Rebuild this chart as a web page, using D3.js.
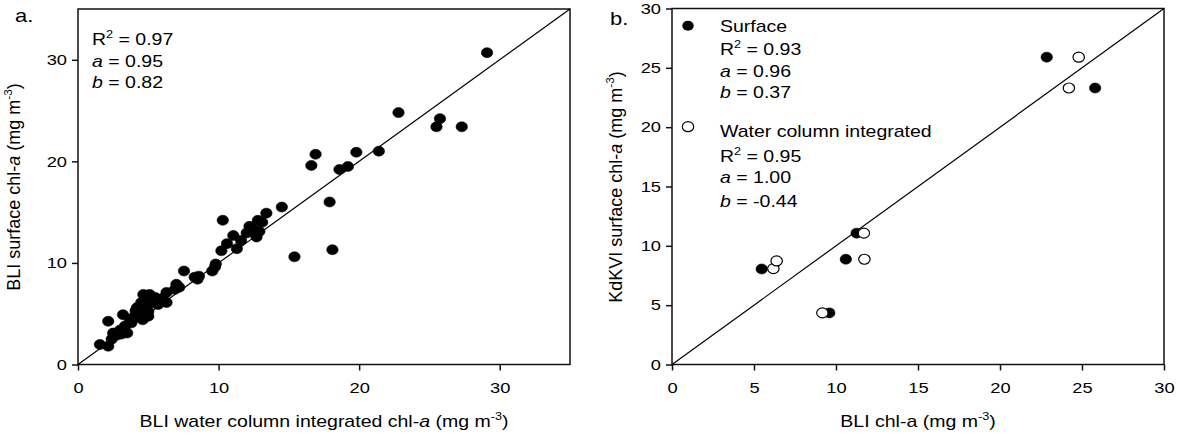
<!DOCTYPE html>
<html>
<head>
<meta charset="utf-8">
<script src="https://cdn.jsdelivr.net/npm/d3@7"></script>
<style>
  body { margin: 0; background: #fff; }
  svg { display: block; font-family: "Liberation Sans", Arial, sans-serif; }
</style>
</head>
<body>
<script>
'use strict';

// panel a: BLI water column integrated vs BLI surface chl-a
const aX = [29.1, 22.8, 25.75, 25.5, 27.3, 21.4, 19.8, 16.9, 16.6, 18.6, 19.2, 17.9, 18.1, 15.4,
  14.5, 13.4, 12.8, 10.3, 12.2, 12.9, 12.7, 12.0, 11.05, 10.6, 10.2, 11.3, 9.74, 9.55, 7.54,
  8.3, 8.6, 7.0, 6.9, 6.3, 6.3, 5.8, 5.1, 4.65, 5.5, 4.5, 4.2, 5.0, 4.4, 5.0, 3.2, 3.7, 3.35,
  3.5, 3.0, 2.5, 2.15, 2.4, 2.15, 1.56, 3.8, 4.3, 4.77, 5.36, 3.9, 4.1, 4.6, 3.1, 2.8, 5.7,
  6.0, 4.9, 7.2, 12.5, 11.6, 9.8, 8.5, 13.1];
const aY = [30.7, 24.8, 24.2, 23.4, 23.4, 21.0, 20.9, 20.7, 19.6, 19.2, 19.5, 16.0, 11.3, 10.6,
  15.5, 14.9, 14.2, 14.2, 13.6, 13.1, 12.55, 12.95, 12.7, 11.9, 11.2, 11.4, 9.6, 9.2, 9.2,
  8.6, 8.7, 7.9, 7.4, 7.1, 6.1, 6.4, 6.9, 6.9, 6.6, 6.1, 5.6, 5.2, 4.9, 4.75, 4.9, 4.4, 3.8,
  3.1, 3.4, 3.1, 4.26, 2.5, 1.8, 1.97, 4.1, 5.1, 5.7, 6.06, 4.6, 5.3, 4.4, 3.0, 2.9, 5.9,
  6.5, 6.3, 7.6, 13.3, 12.2, 9.9, 8.4, 14.0];

// panel b: BLI chl-a vs KdKVI surface chl-a
const surfX = [22.85, 25.8, 11.26, 10.6, 5.47, 9.59];
const surfY = [25.9, 23.3, 11.07, 8.87, 8.05, 4.35];
const wcX = [24.8, 24.2, 11.7, 11.73, 6.18, 6.38, 9.17];
const wcY = [25.9, 23.3, 11.07, 8.87, 8.08, 8.73, 4.35];

const aTicks = [0, 10, 20, 30];
const bTicks = [0, 5, 10, 15, 20, 25, 30];

const SX = 1.22; // source figure is stretched horizontally
const svg = d3.select('body').append('svg')
  .attr('width', 1182)
  .attr('height', 436);

// place a text element, stretched horizontally unless rotated
function place(sel, x, y, rot) {
  if (rot) {
    sel.attr('transform', 'translate(' + x + ',' + y + ') rotate(' + rot + ')');
  } else {
    sel.attr('transform', 'translate(' + x + ',' + y + ') scale(' + SX + ',1)');
  }
  return sel;
}

// parts: {t, i (italic), sup}
function rich(sel, parts, fs) {
  let up = false;
  parts.forEach(p => {
    const ts = sel.append('tspan').text(p.t);
    if (p.i) ts.style('font-style', 'italic');
    if (p.sup) {
      ts.attr('font-size', fs * 0.65).attr('dy', -fs * 0.42);
      up = true;
    } else if (up) {
      ts.attr('dy', fs * 0.42);
      up = false;
    }
  });
  return sel;
}

function label(x, y, parts, fs, opts) {
  opts = opts || {};
  const t = svg.append('text')
    .attr('font-size', fs)
    .attr('text-anchor', opts.anchor || 'start')
    .attr('fill', '#000');
  place(t, x, y, opts.rot);
  rich(t, parts, fs);
  return t;
}

function drawPanel(x, y, ticks) {
  const r = x.range(), d = y.range();
  const g = svg.append('g');

  g.append('rect')
    .attr('x', r[0]).attr('y', d[1])
    .attr('width', r[1] - r[0]).attr('height', d[0] - d[1])
    .attr('fill', 'none').attr('stroke', '#111').attr('stroke-width', 1.5);

  const yAxis = g.append('g')
    .attr('transform', 'translate(' + r[0] + ',0)')
    .call(d3.axisLeft(y).tickValues(ticks).tickSize(6).tickSizeOuter(0));
  const xAxis = g.append('g')
    .attr('transform', 'translate(0,' + d[0] + ')')
    .call(d3.axisBottom(x).tickValues(ticks).tickSize(6).tickSizeOuter(0));

  [xAxis, yAxis].forEach(a => {
    a.select('.domain').remove();
    a.selectAll('line').attr('stroke', '#111').attr('stroke-width', 1.5);
    a.selectAll('text').attr('font-size', 15).attr('fill', '#000')
      .attr('font-family', '"Liberation Sans", Arial, sans-serif');
  });
  yAxis.selectAll('text').attr('x', null)
    .attr('transform', 'translate(-11,0) scale(' + SX + ',1)');
  xAxis.selectAll('text').attr('y', 0).attr('dy', '0.71em')
    .attr('transform', 'translate(0,18) scale(' + SX + ',1)');

  // 1:1 line
  const dom = x.domain();
  g.append('line')
    .attr('x1', x(dom[0])).attr('y1', y(dom[0]))
    .attr('x2', x(dom[1])).attr('y2', y(dom[1]))
    .attr('stroke', '#000').attr('stroke-width', 1.2);
  return g;
}

function dots(g, x, y, xs, ys, filled) {
  g.selectAll(null)
    .data(xs.map((v, i) => [v, ys[i]]))
    .enter()
    .append('ellipse')
    .attr('cx', d => x(d[0]))
    .attr('cy', d => y(d[1]))
    .attr('rx', 5.7)
    .attr('ry', 5)
    .attr('fill', filled ? '#000' : '#fff')
    .attr('stroke', '#000')
    .attr('stroke-width', filled ? 0.6 : 1.2);
}

// ---- panel a ----
const xA = d3.scaleLinear().domain([0, 35]).range([78, 570]);
const yA = d3.scaleLinear().domain([0, 35]).range([364.5, 9]);
const gA = drawPanel(xA, yA, aTicks);
dots(gA, xA, yA, aX, aY, true);

label(15, 22, [{t: 'a.'}], 18);
label(92, 45, [{t: 'R'}, {t: '2', sup: true}, {t: ' = 0.97'}], 16);
label(92, 67, [{t: 'a', i: true}, {t: ' = 0.95'}], 16);
label(92, 88, [{t: 'b', i: true}, {t: ' = 0.82'}], 16);

label(324, 427, [{t: 'BLI water column integrated chl-'}, {t: 'a', i: true}, {t: ' (mg m'},
  {t: '-3', sup: true}, {t: ')'}], 16, {anchor: 'middle'});
label(20, 187, [{t: 'BLI surface chl-'}, {t: 'a', i: true}, {t: ' (mg m'},
  {t: '-3', sup: true}, {t: ')'}], 18, {anchor: 'middle', rot: -90});

// ---- panel b ----
const xB = d3.scaleLinear().domain([0, 30]).range([672, 1164]);
const yB = d3.scaleLinear().domain([0, 30]).range([364.5, 8.5]);
const gB = drawPanel(xB, yB, bTicks);
dots(gB, xB, yB, surfX, surfY, true);
dots(gB, xB, yB, wcX, wcY, false);

label(610, 25, [{t: 'b.'}], 18);

// legend markers
svg.append('ellipse').attr('cx', 688).attr('cy', 25.7).attr('rx', 5.7).attr('ry', 5)
  .attr('fill', '#000');
svg.append('ellipse').attr('cx', 688).attr('cy', 126.7).attr('rx', 5.7).attr('ry', 5)
  .attr('fill', '#fff').attr('stroke', '#000').attr('stroke-width', 1.2);

label(720, 31.5, [{t: 'Surface'}], 16);
label(720, 55, [{t: 'R'}, {t: '2', sup: true}, {t: ' = 0.93'}], 16);
label(720, 76.5, [{t: 'a', i: true}, {t: ' = 0.96'}], 16);
label(720, 98, [{t: 'b', i: true}, {t: ' = 0.37'}], 16);
label(720, 137, [{t: 'Water column integrated'}], 16);
label(720, 162, [{t: 'R'}, {t: '2', sup: true}, {t: ' = 0.95'}], 16);
label(720, 183, [{t: 'a', i: true}, {t: ' = 1.00'}], 16);
label(720, 207, [{t: 'b', i: true}, {t: ' = -0.44'}], 16);

label(918, 427, [{t: 'BLI chl-a (mg m'}, {t: '-3', sup: true}, {t: ')'}], 16, {anchor: 'middle'});
label(622, 187, [{t: 'KdKVI surface chl-'}, {t: 'a', i: true}, {t: ' (mg m'},
  {t: '-3', sup: true}, {t: ')'}], 18, {anchor: 'middle', rot: -90});
</script>
</body>
</html>
